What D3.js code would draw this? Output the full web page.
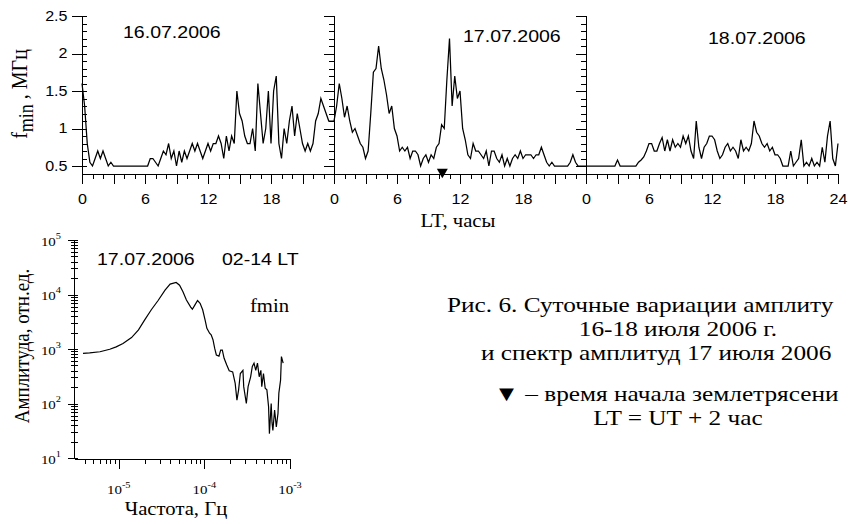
<!DOCTYPE html>
<html>
<head>
<meta charset="utf-8">
<script src="https://cdn.jsdelivr.net/npm/d3@7"></script>
<style>
  body { margin: 0; background: #fff; }
  svg { display: block; }
  .serif { font-family: "Liberation Serif", "Times New Roman", serif; }
  .sans { font-family: "Liberation Sans", Arial, sans-serif; }
</style>
</head>
<body>
<svg id="chart" width="848" height="524"></svg>
<script>
// ---------------- data ----------------
// fmin, MHz, every 15 minutes of local time (LT) for each day
const dayLabels = ["16.07.2006", "17.07.2006", "18.07.2006"];
const stepHours = 0.25;

const fmin16 = [
  1.6, 1.3, 0.8, 0.55, 0.5, 0.6, 0.7, 0.6, 0.7, 0.6, 0.5, 0.55,
  0.5, 0.5, 0.5, 0.5, 0.5, 0.5, 0.5, 0.5, 0.5, 0.5, 0.5, 0.5, 0.5, 0.5,
  0.6, 0.6,
  0.55, 0.5, 0.6, 0.7,
  0.65, 0.8, 0.6, 0.7,
  0.5, 0.7, 0.55, 0.7,
  0.6, 0.7, 0.8, 0.7,
  0.8, 0.7, 0.6, 0.7,
  0.8, 0.7, 0.8, 0.8,
  0.9, 0.8, 0.6, 0.9,
  0.7, 0.9, 0.8, 1.5,
  1.2, 1.1, 0.9, 0.8,
  0.8, 1.0, 0.7, 1.6,
  1.2, 0.8, 1.0, 1.5,
  0.8, 1.5, 1.7, 0.8,
  0.6, 1.0, 0.8, 1.1,
  1.3, 0.9, 1.2, 1.0,
  0.8, 0.7, 0.8, 0.7,
  0.8, 1.1, 1.2, 1.4,
  1.3, 1.2, 1.1, 1.1
];

const fmin17 = [
  1.1, 1.3, 1.6, 1.4,
  1.15, 1.3, 1.1, 0.95,
  1.0, 0.9, 0.8, 0.75,
  0.6, 0.7, 1.2, 1.75,
  1.8, 2.1, 1.8, 1.65,
  1.45, 1.2, 1.3, 1.0,
  0.9, 0.7, 0.75, 0.7,
  0.75, 0.6, 0.7, 0.7,
  0.65, 0.5, 0.6, 0.65,
  0.55, 0.65, 0.6, 0.75,
  0.8, 1.05, 1.0, 1.65,
  2.2, 1.3, 1.7, 1.4,
  1.5, 1.0, 0.85, 0.65,
  0.6, 0.8, 0.7, 0.7,
  0.65, 0.6, 0.7, 0.5,
  0.7, 0.7, 0.6, 0.55,
  0.65, 0.5, 0.6, 0.5,
  0.6, 0.65, 0.6, 0.7,
  0.6, 0.65, 0.65, 0.65,
  0.6, 0.65, 0.65, 0.75,
  0.65, 0.55, 0.5, 0.55,
  0.5, 0.5, 0.5, 0.5,
  0.5, 0.5, 0.55, 0.65,
  0.55, 0.5, 0.5, 0.5
];

const fmin18 = [
  0.5, 0.5, 0.5, 0.5, 0.5, 0.5, 0.5, 0.5, 0.5, 0.5, 0.5, 0.5,
  0.58, 0.5, 0.5, 0.5,
  0.5, 0.5, 0.5, 0.5,
  0.55, 0.58, 0.62, 0.7,
  0.8, 0.8, 0.7, 0.7,
  0.8, 0.88, 0.7, 0.85,
  0.7, 0.85, 0.75, 0.8,
  0.75, 0.9, 0.8, 0.9,
  0.7, 0.6, 1.1, 0.75,
  0.6, 0.75, 0.8, 0.9,
  0.9, 0.85, 0.7, 0.6,
  0.65, 0.75, 0.8, 0.7,
  0.75, 0.7, 0.6, 0.85,
  0.7, 0.75, 0.7, 0.8,
  1.1, 0.95, 0.9, 0.8,
  0.75, 0.8, 0.7, 0.75,
  0.65, 0.65, 0.6, 0.5,
  0.5, 0.5, 0.7, 0.5,
  0.55, 0.6, 0.85, 0.5,
  0.55, 0.5, 0.6, 0.5,
  0.55, 0.5, 0.75, 0.55,
  0.9, 1.1, 0.6, 0.5,
  0.8
];

// earthquake onset, LT hours counted from 00 LT on 16.07
const quakeHour = 24 + 10 + 19 / 60;

const fminTicks = [0.5, 1, 1.5, 2, 2.5];
const hourLabelStep = 6;

// amplitude spectrum of fmin, 17.07.2006, 02-14 LT
const specFreq = [
  3.82e-6, 4.57e-6, 6.03e-6, 7.85e-6, 9.33e-6, 1.12e-5, 1.41e-5, 1.70e-5, 2.00e-5, 2.40e-5,
  2.88e-5, 3.47e-5, 3.98e-5, 4.68e-5, 5.13e-5, 5.62e-5, 6.17e-5, 6.92e-5, 7.24e-5, 7.76e-5,
  8.32e-5, 8.91e-5, 9.55e-5, 1.02e-4, 1.07e-4, 1.15e-4, 1.20e-4, 1.26e-4, 1.32e-4, 1.38e-4,
  1.48e-4, 1.55e-4, 1.62e-4, 1.70e-4, 1.82e-4, 1.95e-4, 2.14e-4, 2.29e-4, 2.40e-4, 2.51e-4,
  2.63e-4, 2.82e-4, 2.88e-4, 3.09e-4, 3.24e-4, 3.47e-4, 3.63e-4, 3.80e-4, 3.98e-4, 4.17e-4,
  4.37e-4, 4.57e-4, 4.68e-4, 4.90e-4, 5.13e-4, 5.37e-4, 5.62e-4, 5.75e-4, 6.03e-4, 6.17e-4,
  6.31e-4, 6.61e-4, 6.92e-4, 7.24e-4, 7.41e-4, 7.76e-4, 7.94e-4, 8.32e-4
];
const specAmp = [
  832, 851, 891, 989, 1096, 1259, 1622, 2239, 3388, 5248,
  7762, 12023, 15488, 16596, 14791, 11220, 7943, 5888, 5370, 6457,
  7762, 6918, 5248, 3388, 2399, 1950, 1820, 1479, 1023, 776,
  741, 955, 955, 676, 513, 398, 380, 234, 115, 178,
  355, 407, 204, 100, 204, 309, 479, 550, 407, 550,
  309, 407, 204, 355, 191, 178, 87, 28, 100, 44,
  32, 76, 37, 66, 155, 269, 724, 550
];
const ampDecades = [1, 2, 3, 4, 5];
const freqDecades = [-5, -4, -3];

const captionLines = [
  { text: "Рис. 6. Суточные вариации амплиту", anchor: "start", x: 447, y: 312 },
  { text: "16-18 июля 2006 г.", anchor: "middle", x: 678, y: 336 },
  { text: "и спектр амплитуд 17 июля 2006", anchor: "start", x: 481, y: 360 },
  { text: "▼ – время начала землетрясени", anchor: "start", x: 494, y: 401 },
  { text: "LT = UT + 2 час", anchor: "middle", x: 678, y: 425 }
];

// ---------------- drawing ----------------
const SX = 1.15;            // horizontal stretch applied to all lettering
const svg = d3.select("#chart");

// text helper: draws text whose glyphs are widened by SX while its anchor stays at x
function txt(parent, x, y, str, cls, size, anchor) {
  return parent.append("text")
    .attr("class", cls)
    .attr("transform", `scale(${SX},1)`)
    .attr("x", x / SX).attr("y", y)
    .attr("font-size", size)
    .attr("text-anchor", anchor || "start")
    .attr("fill", "#000")
    .text(str);
}

// ===== daily fmin variations =====
const x = d3.scaleLinear().domain([0, 72]).range([82, 838]);
const y = d3.scaleLinear().domain([0.5, 2.5]).range([166, 16]);
const baseY = 173.5;

const daily = svg.append("g");

const points = [fmin16, fmin17, fmin18].flatMap((arr, d) =>
  arr.map((v, i) => [d * 24 + i * stepHours, v]));

daily.append("path")
  .datum(points)
  .attr("fill", "none")
  .attr("stroke", "#000")
  .attr("stroke-width", 1.25)
  .attr("stroke-linejoin", "miter")
  .attr("d", d3.line().x(d => x(d[0])).y(d => y(d[1])));

// time axis
const xAxis = d3.axisBottom(x)
  .tickValues(d3.range(0, 73))
  .tickSize(5)
  .tickSizeOuter(0)
  .tickFormat(h => h % hourLabelStep === 0 ? String(h === 72 ? 24 : h % 24) : "");
const gx = daily.append("g")
  .attr("transform", `translate(0,${baseY})`)
  .call(xAxis);
gx.select(".domain").attr("stroke", "#000").attr("shape-rendering", "crispEdges");
gx.selectAll(".tick line")
  .attr("stroke", "#000")
  .attr("shape-rendering", "crispEdges")
  .attr("y2", h => h % 3 === 0 ? 10 : 5);
gx.selectAll(".tick text")
  .attr("class", "sans")
  .attr("font-size", 14)
  .attr("fill", "#000")
  .attr("dy", null)
  .attr("y", 31)
  .attr("transform", `scale(${SX},1)`);

// fmin axes: left axis with labels, day-boundary axes without
const yMinor = d3.range(5, 26).map(k => k / 10);
const isMajor = v => Math.abs(v * 2 - Math.round(v * 2)) < 1e-6;

function fminAxis(hour, withLabels) {
  const g = daily.append("g")
    .attr("transform", `translate(${Math.round(x(hour)) + 0.5},0)`)
    .call(d3.axisLeft(y).tickValues(yMinor).tickSize(0).tickFormat(""));
  g.select(".domain").remove();
  g.append("line")
    .attr("y1", y(2.5)).attr("y2", baseY)
    .attr("stroke", "#000").attr("shape-rendering", "crispEdges");
  g.selectAll(".tick line")
    .attr("stroke", "#000")
    .attr("shape-rendering", "crispEdges")
    .attr("x1", v => withLabels ? (isMajor(v) ? -11 : 0) : (isMajor(v) ? -11 : -6))
    .attr("x2", v => withLabels ? 4 : 0);
  g.selectAll(".tick text").remove();
  if (withLabels) {
    fminTicks.forEach(v => {
      txt(g, -15, y(v) + 5, String(v), "sans", 14, "end");
    });
  }
}
fminAxis(0, true);
fminAxis(24, false);
fminAxis(48, false);

// earthquake marker
daily.append("path")
  .attr("d", d3.symbol().type(d3.symbolTriangle).size(52)())
  .attr("transform", `translate(${x(quakeHour)},${baseY - 1.5}) rotate(180)`)
  .attr("fill", "#000");

// day labels
const dayLabelPos = [[123, 38], [463, 42], [708, 44]];
dayLabels.forEach((s, i) => {
  txt(daily, dayLabelPos[i][0], dayLabelPos[i][1], s, "sans", 17, "start");
});

// axis titles
const yt = daily.append("text")
  .attr("class", "serif")
  .attr("transform", `translate(27,94) rotate(-90) scale(1,${SX})`)
  .attr("text-anchor", "middle")
  .attr("font-size", 20)
  .attr("fill", "#000");
yt.append("tspan").text("f");
yt.append("tspan").attr("font-size", 18).attr("dy", 5).text("min");
yt.append("tspan").attr("dy", -5).text(" , МГц");

txt(daily, 458, 227, "LT, часы", "serif", 18, "middle");

// ===== amplitude spectrum =====
const xs = d3.scaleLog().domain([3e-6, 1e-3]).range([74, 290]);
const ys = d3.scaleLog().domain([10, 1e5]).range([458, 240]);
const sp = svg.append("g");

sp.append("path")
  .datum(specFreq.map((f, i) => [f, specAmp[i]]))
  .attr("fill", "none")
  .attr("stroke", "#000")
  .attr("stroke-width", 1.2)
  .attr("d", d3.line().x(d => xs(d[0])).y(d => ys(d[1])));

const decadeTicks = (lo, hi) => {
  const out = [];
  for (let e = lo; e <= hi; e++) for (let m = 1; m <= 9; m++) out.push(m * Math.pow(10, e));
  return out;
};
const isDecade = v => Math.abs(Math.log10(v) - Math.round(Math.log10(v))) < 1e-9;

// frequency axis
const fTicks = decadeTicks(-6, -3).filter(v => v >= 3.9e-6 && v <= 1.01e-3);
const gfx = sp.append("g")
  .attr("transform", "translate(0,458.5)")
  .call(d3.axisBottom(xs).tickValues(fTicks).tickSize(5).tickSizeOuter(0).tickFormat(""));
gfx.select(".domain").attr("stroke", "#000").attr("shape-rendering", "crispEdges");
gfx.selectAll(".tick line")
  .attr("stroke", "#000").attr("shape-rendering", "crispEdges")
  .attr("y2", v => isDecade(v) ? 10 : 5);
freqDecades.forEach(e => {
  const t = txt(sp, xs(Math.pow(10, e)), 494, "", "serif", 13, "middle");
  t.append("tspan").text("10");
  t.append("tspan").attr("font-size", 9).attr("dy", -6).text(String(e));
});

// amplitude axis
const aTicks = decadeTicks(1, 4).concat([1e5]);
const gay = sp.append("g")
  .attr("transform", "translate(74.5,0)")
  .call(d3.axisLeft(ys).tickValues(aTicks).tickSize(0).tickFormat(""));
gay.select(".domain").remove();
gay.append("line").attr("y1", 240).attr("y2", 458.5)
  .attr("stroke", "#000").attr("shape-rendering", "crispEdges");
gay.selectAll(".tick line")
  .attr("stroke", "#000").attr("shape-rendering", "crispEdges")
  .attr("x1", v => isDecade(v) ? -7 : -4)
  .attr("x2", 3);
ampDecades.forEach(e => {
  const t = txt(sp, 61, ys(Math.pow(10, e)) + 6, "", "serif", 13, "end");
  t.append("tspan").text("10");
  t.append("tspan").attr("font-size", 9).attr("dy", -7).text(String(e));
});

txt(sp, 97, 265, "17.07.2006", "sans", 17, "start");
txt(sp, 222, 265, "02-14 LT", "sans", 17, "start");
txt(sp, 250, 312, "fmin", "serif", 18, "start");

sp.append("text")
  .attr("class", "serif")
  .attr("transform", `translate(29,346) rotate(-90) scale(1,${SX})`)
  .attr("text-anchor", "middle")
  .attr("font-size", 19)
  .attr("fill", "#000")
  .text("Амплитуда, отн.ед.");

txt(sp, 176, 515, "Частота, Гц", "serif", 18, "middle");

// ===== caption =====
const cap = svg.append("g");
captionLines.forEach(l => {
  txt(cap, l.x, l.y, l.text, "serif", 22, l.anchor);
});
</script>
</body>
</html>
